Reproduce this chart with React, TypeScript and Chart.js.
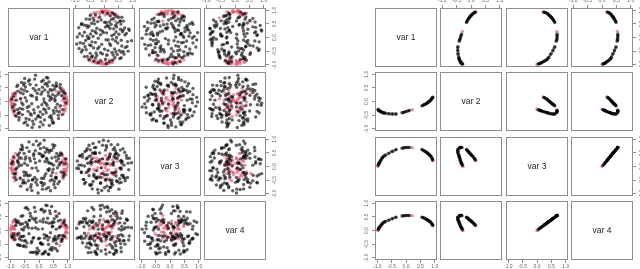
import React, { useEffect, useRef } from "react";
import { Chart, registerables } from "chart.js";

Chart.register(...registerables);

// ---------- labels / ticks ----------
const VAR_LABELS = ["var 1", "var 2", "var 3", "var 4"];
const TICK_VALUES = [-1, -0.5, 0, 0.5, 1];
const AXIS_MIN = -1.08;
const AXIS_MAX = 1.08;

// ---------- left matrix: black points ----------
const leftBlackVar1 = [
  0.62, -0.15, 0.33, -0.71, 0.05, 0.88, -0.42, 0.21, -0.56, 0.47,
  -0.09, 0.73, -0.83, 0.16, -0.34, 0.55, -0.61, 0.02, 0.39, -0.25,
  0.81, -0.47, 0.11, -0.69, 0.28, -0.12, 0.66, -0.38, 0.44, -0.92,
  0.07, 0.35, -0.53, 0.58, -0.2, 0.93, -0.73, 0.25, -0.04, 0.49,
  -0.64, 0.14, -0.31, 0.7, -0.86, 0.38, -0.18, 0.6, -0.48, 0.19,
  -0.77, 0.52, -0.08, 0.31, -0.58, 0.84, -0.29, 0.04, 0.45, -0.4,
  0.68, -0.95, 0.12, -0.22, 0.57, -0.5, 0.24, -0.66, 0.36, -0.13,
  0.77, -0.35, 0.09, -0.81, 0.5, -0.03, 0.3, -0.55, 0.64, -0.45,
  0.17, -0.74, 0.42, -0.16, 0.9, -0.37, 0.22, -0.6, 0.53, -0.24,
  0.75, -0.1, 0.4, -0.52, 0.06, -0.89, 0.32, -0.27, 0.61, -0.06,
  0.46, -0.68, 0.26, -0.43, 0.85, -0.19, 0.13, -0.62, 0.48, -0.3,
  0.71, -0.79, 0.0, 0.37, -0.51, 0.18, -0.7, 0.59, -0.11, 0.44,
  -0.57, 0.79, -0.33, 0.1, -0.46, 0.27, -0.84, 0.67, -0.23, 0.51,
  -0.64, 0.2, -0.41, 0.74, -0.02, 0.34, -0.54, 0.15, -0.75, 0.56,
];
const leftBlackVar2 = [
  -0.35, 0.82, 0.21, -0.44, -0.58, 0.12, 0.37, 0.64, -0.12, -0.79,
  0.15, 0.51, 0.29, -0.27, -0.66, 0.08, 0.7, -0.93, 0.44, -0.08,
  -0.48, 0.53, 0.35, -0.58, -0.14, 0.96, 0.26, -0.36, -0.61, -0.2,
  0.27, 0.72, -0.79, -0.22, 0.48, -0.05, 0.38, -0.41, -0.55, 0.59,
  0.1, -0.85, 0.62, 0.33, -0.35, 0.05, -0.3, 0.68, 0.14, -0.68,
  0.55, -0.43, 0.07, 0.86, -0.48, -0.3, 0.23, -0.38, 0.4, -0.87,
  -0.62, 0.08, 0.52, -0.72, 0.19, 0.84, -0.06, -0.25, -0.88, 0.4,
  0.42, -0.17, 0.73, -0.52, -0.33, -0.2, 0.57, 0.28, -0.1, -0.62,
  0.09, 0.6, -0.52, -0.42, 0.3, 0.74, -0.31, -0.05, 0.46, -0.95,
  -0.15, 0.6, 0.16, 0.41, -0.75, 0.18, 0.34, -0.5, 0.58, 0.3,
  -0.7, -0.4, 0.88, 0.02, 0.36, -0.83, -0.47, 0.46, 0.25, -0.45,
  -0.38, 0.05, 0.44, -0.57, 0.67, -0.02, -0.68, 0.55, -0.64, 0.11,
  -0.28, 0.22, 0.8, -0.12, -0.75, 0.66, -0.12, -0.5, 0.2, -0.78,
  0.32, 0.42, -0.22, 0.62, -0.52, -0.25, 0.6, 0.78, -0.3, 0.02,
];
const leftBlackVar3 = [
  0.48, -0.4, -0.77, 0.12, 0.66, -0.3, 0.69, 0.18, -0.61, -0.22,
  0.93, 0.41, -0.25, -0.44, 0.55, 0.77, 0.05, 0.2, -0.52, -0.88,
  0.15, -0.6, 0.36, 0.32, 0.25, 0.14, -0.63, -0.35, 0.59, 0.18,
  -0.58, 0.52, -0.2, -0.39, 0.8, 0.28, 0.43, -0.82, -0.16, -0.1,
  -0.72, 0.38, -0.32, 0.05, -0.28, 0.6, 0.47, -0.4, 0.27, -0.63,
  -0.05, -0.66, -0.48, -0.12, 0.61, -0.38, -0.76, 0.84, 0.31, 0.05,
  0.28, 0.1, -0.83, -0.47, 0.35, 0.12, -0.26, -0.42, -0.08, 0.58,
  -0.2, 0.9, -0.43, -0.1, 0.69, -0.97, 0.6, -0.5, -0.05, -0.22,
  0.7, 0.22, -0.34, 0.28, 0.1, -0.52, 0.52, 0.78, -0.55, -0.06,
  0.5, -0.05, -0.89, 0.48, 0.45, 0.36, 0.16, -0.67, 0.2, -0.68,
  -0.48, 0.5, 0.3, -0.3, -0.22, 0.4, -0.7, 0.3, 0.8, 0.2,
  -0.55, -0.48, 0.48, 0.12, -0.33, 0.96, 0.02, -0.45, -0.58, 0.1,
  0.7, 0.45, 0.3, -0.6, 0.35, 0.65, -0.4, 0.38, -0.5, 0.05,
  0.62, -0.35, -0.84, 0.12, 0.78, -0.15, -0.58, 0.4, 0.18, -0.78,
];
const leftBlackVar4 = [
  0.51, 0.38, -0.51, -0.53, -0.47, 0.35, -0.46, 0.72, 0.54, 0.31,
  0.3, -0.18, 0.4, -0.84, 0.37, -0.31, -0.36, -0.28, 0.62, -0.39,
  -0.3, -0.37, -0.86, 0.28, 0.91, 0.1, -0.28, 0.77, 0.27, -0.25,
  0.76, 0.27, -0.21, -0.67, -0.28, 0.2, 0.35, 0.3, -0.81, -0.63,
  -0.22, 0.31, 0.63, 0.62, -0.2, -0.7, -0.8, 0.05, 0.82, -0.28,
  0.28, 0.3, -0.86, -0.35, -0.22, -0.18, 0.52, 0.35, -0.72, 0.24,
  -0.2, -0.22, 0.06, 0.44, 0.7, 0.12, 0.93, -0.55, -0.25, 0.69,
  -0.4, -0.12, -0.5, 0.18, -0.38, 0.05, 0.45, -0.58, -0.75, -0.6,
  0.68, -0.15, -0.64, 0.84, -0.22, 0.1, -0.76, 0.05, 0.43, 0.08,
  0.38, -0.78, -0.08, -0.56, -0.45, -0.12, -0.86, -0.45, -0.48, -0.65,
  0.14, -0.3, -0.2, 0.84, 0.28, -0.26, -0.5, 0.52, 0.16, -0.8,
  0.1, 0.32, -0.74, 0.72, -0.38, -0.15, -0.1, -0.35, 0.45, 0.88,
  0.25, -0.33, 0.38, 0.78, 0.3, -0.2, -0.33, 0.35, -0.8, -0.3,
  0.22, -0.8, 0.18, 0.15, -0.3, -0.88, 0.02, 0.42, -0.52, -0.22,
];

// ---------- left matrix: red points ----------
const leftRedVar1 = [
  0.97, 0.93, 0.9, 0.95, 0.86, 0.88, 0.99, 0.82, 0.91, 0.84,
  0.96, 0.89, 0.8, 0.94, 0.78, 0.92, 0.85, 0.98, 0.87, 0.6,
  0.83, 0.95, 0.72, -0.97, -0.92, -0.89, -0.95, -0.85, -0.9, -0.99,
  -0.82, -0.93, -0.86, -0.96, -0.88, -0.79, -0.91, -0.84, -0.94, -0.8,
  -0.87, -0.98, -0.9, -0.76, -0.65, -0.92,
];
const leftRedVar2 = [
  0.1, -0.25, 0.3, -0.05, 0.42, -0.15, 0.02, 0.05, -0.35, 0.2,
  0.18, -0.02, 0.48, -0.12, -0.3, 0.25, -0.45, -0.08, 0.12, 0.38,
  0.35, 0.05, -0.2, -0.12, 0.28, -0.4, 0.1, -0.5, -0.05, 0.05,
  0.2, -0.3, -0.25, 0.15, 0.3, -0.55, -0.18, 0.05, -0.22, 0.35,
  -0.35, -0.02, 0.22, -0.45, 0.1, -0.1,
];
const leftRedVar3 = [
  -0.15, 0.2, 0.25, 0.28, -0.1, -0.35, 0.05, 0.4, -0.1, -0.45,
  0.1, -0.2, 0.2, 0.15, 0.48, -0.22, 0.05, -0.05, 0.3, -0.25,
  -0.3, -0.3, 0.15, 0.1, -0.22, 0.15, 0.25, -0.1, -0.4, -0.05,
  0.48, -0.15, 0.3, -0.12, 0.1, -0.2, 0.2, -0.52, -0.05, -0.3,
  0.32, 0.12, 0.05, 0.4, -0.45, -0.25,
];
const leftRedVar4 = [
  0.12, -0.1, 0.12, 0.05, -0.22, 0.25, -0.08, -0.38, 0.18, -0.18,
  0.15, 0.4, 0.25, -0.28, 0.15, -0.05, -0.2, 0.1, 0.32, 0.55,
  0.2, -0.05, -0.55, -0.15, 0.08, 0.12, -0.1, 0.05, 0.15, 0.08,
  0.2, -0.18, -0.3, 0.18, -0.35, -0.1, 0.3, -0.12, -0.25, 0.35,
  0.05, 0.02, 0.35, -0.2, -0.55, -0.28,
];

// ---------- right matrix: points along the curve ----------
const rightVar1 = [
  -0.98, -0.97, -0.96, -0.95, -0.94, -0.93, -0.92, -0.9, -0.88, -0.86,
  -0.84, -0.82, -0.8, -0.77, -0.74, -0.71, -0.62, -0.58, -0.49, -0.46,
  -0.37, -0.34, -0.14, -0.1, -0.06, -0.02, 0.03, 0.08, 0.12, 0.22,
  0.55, 0.58, 0.61, 0.64, 0.67, 0.7, 0.72, 0.74, 0.76, 0.78,
  0.8, 0.82, 0.84, 0.86, 0.88, 0.9, 0.91, 0.92, 0.93, 0.94,
];
const rightVar2 = [
  -0.28, -0.3, -0.31, -0.32, -0.33, -0.34, -0.35, -0.36, -0.37, -0.38,
  -0.39, -0.4, -0.41, -0.42, -0.42, -0.43, -0.45, -0.45, -0.46, -0.46,
  -0.46, -0.46, -0.41, -0.4, -0.39, -0.37, -0.36, -0.34, -0.33, -0.3,
  -0.16, -0.15, -0.13, -0.11, -0.1, -0.08, -0.07, -0.05, -0.04, -0.02,
  0.0, 0.01, 0.03, 0.05, 0.08, 0.1, 0.12, 0.14, 0.15, 0.17,
];
const rightVar3 = [
  0.0, 0.04, 0.07, 0.1, 0.12, 0.14, 0.16, 0.19, 0.23, 0.26,
  0.3, 0.33, 0.35, 0.38, 0.4, 0.42, 0.47, 0.5, 0.55, 0.56,
  0.61, 0.62, 0.67, 0.68, 0.69, 0.7, 0.7, 0.7, 0.7, 0.69,
  0.62, 0.61, 0.59, 0.57, 0.55, 0.53, 0.51, 0.5, 0.48, 0.46,
  0.44, 0.42, 0.4, 0.38, 0.36, 0.32, 0.29, 0.26, 0.24, 0.21,
];
const rightVar4 = [
  0.0, 0.03, 0.06, 0.08, 0.1, 0.11, 0.13, 0.15, 0.18, 0.2,
  0.23, 0.26, 0.28, 0.3, 0.32, 0.33, 0.37, 0.39, 0.43, 0.44,
  0.48, 0.49, 0.53, 0.54, 0.54, 0.55, 0.55, 0.55, 0.55, 0.54,
  0.49, 0.48, 0.47, 0.45, 0.43, 0.42, 0.4, 0.39, 0.38, 0.36,
  0.35, 0.33, 0.32, 0.3, 0.28, 0.25, 0.23, 0.21, 0.19, 0.17,
];
// 1 = red highlighted point
const rightGroup = [
  1, 0, 0, 0, 0, 0, 0, 0, 0, 0,
  0, 0, 0, 0, 0, 0, 0, 0, 0, 0,
  0, 0, 0, 0, 0, 0, 0, 0, 0, 1,
  0, 0, 0, 0, 0, 0, 0, 0, 0, 0,
  0, 0, 0, 0, 0, 0, 0, 0, 0, 1,
];

// ---------- styling / layout ----------
const FONT = '"Liberation Sans", Arial, Helvetica, sans-serif';
const BLACK = "rgba(0,0,0,0.62)";
const RED = "rgba(223,83,107,0.62)";
const BOX_COLOR = "#8e8e8e";
const TICK_COLOR = "#8e8e8e";
const LABEL_COLOR = "#666";
const POINT_RADIUS = 1.7;

const ROW_TOPS = [8, 72, 137, 201];
const LEFT_COL_LEFTS = [8, 73, 139, 204];
const RIGHT_COL_LEFTS = [375, 440, 506, 571];
const PANEL_W = 62;
const PANEL_H = 59;
const AXIS_SPACE = 12;
const MARGIN = 6;

type Series = { xs: number[]; ys: number[]; color: string };
type Axes = { top: boolean; bottom: boolean; left: boolean; right: boolean };

function makeScale(axis: "x" | "y", position: string, display: boolean): any {
  const vertical = axis === "y";
  return {
    type: "linear",
    position,
    display,
    min: AXIS_MIN,
    max: AXIS_MAX,
    afterBuildTicks: (s: any) => {
      s.ticks = TICK_VALUES.map((v) => ({ value: v }));
    },
    afterFit: (s: any) => {
      const size = display ? AXIS_SPACE : 0;
      if (vertical) s.width = size;
      else s.height = size;
      s.paddingLeft = 0;
      s.paddingRight = 0;
      s.paddingTop = 0;
      s.paddingBottom = 0;
    },
    grid: {
      drawOnChartArea: false,
      drawTicks: true,
      tickLength: 3,
      color: TICK_COLOR,
      lineWidth: 1,
    },
    border: { display: false },
    ticks: {
      autoSkip: false,
      padding: 1,
      color: LABEL_COLOR,
      font: { size: 5, family: FONT },
      minRotation: vertical ? 90 : 0,
      maxRotation: vertical ? 90 : 0,
      crossAlign: vertical ? "center" : "near",
      callback: (v: any) => Number(v).toFixed(1),
    },
  };
}

function Panel(props: {
  x: number;
  y: number;
  axes: Axes;
  label?: string;
  series: Series[];
}) {
  const { x, y, axes, label, series } = props;
  const ref = useRef<HTMLCanvasElement | null>(null);
  const extraL = axes.left ? AXIS_SPACE : 0;
  const extraR = axes.right ? AXIS_SPACE : 0;
  const extraT = axes.top ? AXIS_SPACE : 0;
  const extraB = axes.bottom ? AXIS_SPACE : 0;
  const cw = PANEL_W + 2 * MARGIN + extraL + extraR;
  const ch = PANEL_H + 2 * MARGIN + extraT + extraB;

  useEffect(() => {
    const canvas = ref.current;
    if (!canvas) return;
    const boxPlugin = {
      id: "panelBox",
      afterDraw(chart: any) {
        const { ctx, chartArea: a } = chart;
        ctx.save();
        ctx.strokeStyle = BOX_COLOR;
        ctx.lineWidth = 1;
        ctx.strokeRect(a.left + 0.5, a.top + 0.5, a.right - a.left - 1, a.bottom - a.top - 1);
        if (label) {
          ctx.fillStyle = "#262626";
          ctx.font = `8.5px ${FONT}`;
          ctx.textAlign = "center";
          ctx.textBaseline = "middle";
          ctx.fillText(label, (a.left + a.right) / 2, (a.top + a.bottom) / 2);
        }
        ctx.restore();
      },
    };
    const chart = new Chart(canvas, {
      type: "scatter",
      data: {
        datasets: series.map((s) => ({
          data: s.xs.map((v, i) => ({ x: v, y: s.ys[i] })),
          backgroundColor: s.color,
          borderWidth: 0,
          pointRadius: POINT_RADIUS,
          pointHoverRadius: POINT_RADIUS,
        })),
      },
      options: {
        responsive: false,
        maintainAspectRatio: false,
        animation: false,
        devicePixelRatio: 1,
        events: [],
        layout: { padding: MARGIN },
        plugins: {
          legend: { display: false },
          tooltip: { enabled: false },
          title: { display: false },
        },
        scales: {
          x: makeScale("x", axes.top ? "top" : "bottom", axes.top || axes.bottom),
          y: makeScale("y", axes.left ? "left" : "right", axes.left || axes.right),
        },
      } as any,
      plugins: [boxPlugin],
    });
    return () => chart.destroy();
  }, []);

  return (
    <canvas
      ref={ref}
      width={cw}
      height={ch}
      style={{
        position: "absolute",
        left: x - MARGIN - extraL,
        top: y - MARGIN - extraT,
        width: cw,
        height: ch,
      }}
    />
  );
}

function splitByGroup(vals: number[], groups: number[], g: number) {
  return vals.filter((_, i) => groups[i] === g);
}

function PairsMatrix(props: { colLefts: number[]; blackVars: number[][]; redVars: number[][] }) {
  const { colLefts, blackVars, redVars } = props;
  const panels: React.ReactNode[] = [];
  for (let i = 0; i < 4; i++) {
    for (let j = 0; j < 4; j++) {
      const axes: Axes = {
        top: i === 0 && j % 2 === 1,
        bottom: i === 3 && j % 2 === 0,
        left: j === 0 && i % 2 === 1,
        right: j === 3 && i % 2 === 0,
      };
      const series: Series[] =
        i === j
          ? []
          : [
              { xs: blackVars[j], ys: blackVars[i], color: BLACK },
              { xs: redVars[j], ys: redVars[i], color: RED },
            ];
      panels.push(
        <Panel
          key={`${i}-${j}`}
          x={colLefts[j]}
          y={ROW_TOPS[i]}
          axes={axes}
          label={i === j ? VAR_LABELS[i] : undefined}
          series={series}
        />
      );
    }
  }
  return <>{panels}</>;
}

export default function App() {
  const leftBlack = [leftBlackVar1, leftBlackVar2, leftBlackVar3, leftBlackVar4];
  const leftRed = [leftRedVar1, leftRedVar2, leftRedVar3, leftRedVar4];
  const rightAll = [rightVar1, rightVar2, rightVar3, rightVar4];
  const rightBlack = rightAll.map((v) => splitByGroup(v, rightGroup, 0));
  const rightRed = rightAll.map((v) => splitByGroup(v, rightGroup, 1));
  return (
    <div
      style={{
        position: "absolute",
        left: 0,
        top: 0,
        width: 640,
        height: 269,
        overflow: "hidden",
        background: "#fff",
      }}
    >
      <PairsMatrix colLefts={LEFT_COL_LEFTS} blackVars={leftBlack} redVars={leftRed} />
      <PairsMatrix colLefts={RIGHT_COL_LEFTS} blackVars={rightBlack} redVars={rightRed} />
    </div>
  );
}
